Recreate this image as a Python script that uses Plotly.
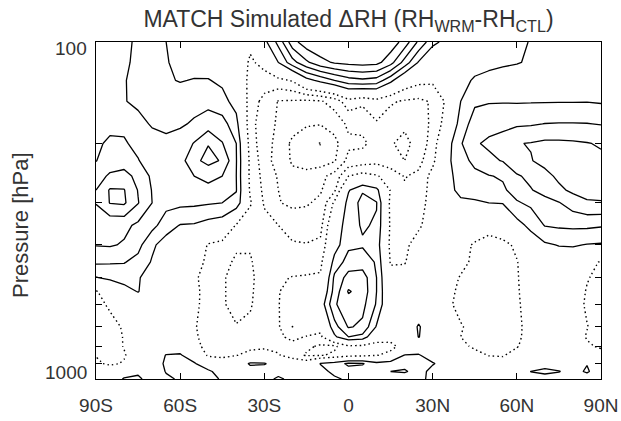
import math
import plotly.graph_objects as go

# Latitude grid (deg, south negative) and pressure levels (hPa)
lat = [-90, -85, -80, -75, -70, -65, -60, -55, -50, -45, -40, -35, -30, -25, -20, -15, -10, -5,
       0, 5, 10, 15, 20, 25, 30, 35, 40, 45, 50, 55, 60, 65, 70, 75, 80, 85, 90]
pres = [100, 115, 130, 150, 175, 200, 225, 250, 275, 300, 350, 400, 450, 500, 550, 600,
        700, 750, 800, 850, 900, 950, 1000]

# Delta RH (contour units), one row per pressure level
d100 = [2.4, 2.4, 2.2, 1.85, 1.4, 1.0, 0.7, 0.5, 0.45, 0.35, 0.1, -0.7, 0.7, 2.3, 4.6, 5.6, 5.8, 5.9, 5.9, 5.9, 5.8, 5.6, 4.6, 2.8, 1.35, 0.6, 0.3, 0.4, 0.5, 0.6, 0.8, 1.05, 1.3, 1.5, 1.6, 1.7, 1.7]
d115 = [2.5, 2.5, 2.15, 1.8, 1.4, 1.05, 0.8, 0.6, 0.55, 0.45, 0.0, -1.2, -0.6, 1.0, 2.6, 3.8, 4.7, 5.1, 5.3, 5.4, 5.3, 4.4, 2.6, 0.9, -0.4, -0.3, 0.2, 0.5, 0.7, 0.85, 0.95, 1.1, 1.3, 1.5, 1.6, 1.7, 1.75]
d130 = [2.6, 2.6, 2.05, 1.75, 1.45, 1.1, 0.95, 1.05, 1.05, 0.8, 0.2, -1.4, -1.5, -1.3, -0.9, 0.6, 1.3, 2.0, 2.6, 2.8, 2.6, 1.3, -0.2, -0.7, -0.8, -0.4, 0.6, 1.15, 1.35, 1.45, 1.5, 1.6, 1.7, 1.8, 1.85, 1.9, 1.9]
d150 = [2.7, 2.6, 2.05, 1.8, 1.6, 1.5, 1.5, 1.6, 1.7, 1.35, 0.6, -1.5, -2.3, -3.05, -3.1, -3.2, -3.1, -2.6, -1.4, -1.8, -1.4, -1.9, -2.1, -2.2, -1.9, -0.8, 1.0, 1.85, 1.92, 1.93, 1.92, 1.93, 1.94, 1.95, 1.95, 1.96, 1.9]
d175 = [2.8, 2.85, 2.8, 2.3, 1.9, 1.75, 1.85, 2.15, 2.5, 2.4, 1.35, -1.7, -2.5, -3.15, -3.6, -3.9, -3.95, -3.6, -2.8, -2.7, -2.1, -2.4, -2.8, -2.5, -1.8, -0.5, 1.5, 2.4, 2.7, 2.8, 2.85, 2.9, 3.02, 3.05, 3.05, 3.03, 2.95]
d200 = [2.9, 3.1, 3.1, 2.75, 2.4, 2.25, 2.5, 3.05, 3.95, 3.05, 2.0, -1.5, -2.6, -3.3, -4.2, -4.6, -5.05, -4.3, -3.2, -3.2, -2.6, -2.9, -3.3, -2.6, -1.6, 0.5, 1.9, 2.9, 3.15, 3.3, 3.95, 4.05, 4.2, 4.2, 4.15, 4.05, 3.9]
d225 = [2.97, 3.5, 3.6, 3.05, 2.5, 2.2, 2.6, 3.75, 4.3, 3.9, 2.05, -1.3, -2.5, -3.5, -4.1, -4.4, -4.5, -4.1, -2.7, -2.5, -2.3, -2.5, -3.0, -2.3, -1.3, 0.7, 1.7, 2.2, 2.8, 3.05, 3.6, 3.95, 4.3, 4.4, 4.4, 4.3, 4.2]
d250 = [3.6, 4.15, 4.3, 3.75, 2.8, 2.4, 2.5, 3.0, 3.3, 3.0, 2.0, -1.3, -2.3, -3.1, -3.8, -3.7, -3.3, -2.6, -1.0, -0.6, -0.9, -1.5, -2.05, -1.8, -0.6, 0.5, 1.6, 1.8, 1.95, 2.1, 2.9, 3.2, 3.7, 4.2, 4.5, 4.6, 4.6]
d275 = [4.0, 5.1, 5.05, 3.95, 2.95, 2.4, 2.4, 2.6, 2.7, 2.55, 2.05, -1.2, -2.2, -3.0, -3.4, -3.3, -3.1, -2.2, 0.9, 1.9, 1.3, -1.1, -1.9, -1.7, -0.5, 0.6, 1.3, 1.45, 1.65, 1.85, 2.4, 2.95, 3.3, 3.8, 4.2, 4.3, 4.25]
d300 = [4.05, 5.05, 5.15, 4.05, 3.0, 2.3, 2.25, 2.2, 2.1, 2.0, 1.7, -0.9, -2.1, -2.95, -3.2, -3.1, -2.8, -0.8, 1.4, 2.3, 2.05, -1.3, -1.7, -1.6, -0.4, 0.4, 0.8, 0.85, 1.0, 1.05, 1.9, 2.2, 2.7, 2.95, 3.5, 3.9, 3.95]
d350 = [3.3, 3.25, 3.25, 2.8, 2.3, 1.5, 0.95, 0.9, 0.6, 0.4, -1.1, -1.5, -1.7, -2.0, -2.4, -2.5, -2.3, 0.2, 1.6, 2.1, 1.9, -1.2, -1.5, -1.15, -0.5, 0.0, 0.3, 0.2, -0.6, -0.2, 0.6, 1.3, 2.05, 2.15, 2.2, 2.2, 2.1]
d400 = [3.05, 3.1, 2.9, 2.3, 1.2, 0.5, 0.3, 0.0, -1.1, -1.4, -1.8, -1.95, -1.7, -1.7, -1.9, -1.95, -1.8, 0.5, 1.8, 1.9, 1.6, -1.3, -1.2, -0.6, -0.4, -0.2, -0.4, -1.2, -1.4, -1.3, -0.8, 0.3, 0.85, 1.05, 1.1, 0.95, 0.9]
d450 = [2.15, 2.1, 2.05, 1.7, 0.9, 0.2, -0.2, -0.6, -1.2, -1.6, -2.2, -2.05, -1.7, -1.5, -1.6, -1.5, -1.3, 1.4, 2.4, 2.5, 1.9, -1.1, -1.05, -0.5, 0.0, -0.3, -0.6, -1.3, -1.5, -1.4, -1.05, -0.3, 0.2, 0.3, 0.2, -0.6, -1.1]
d500 = [0.95, 1.25, 1.4, 1.15, 0.2, -0.2, -0.4, -0.8, -1.5, -1.9, -2.3, -2.2, -1.5, -1.15, -0.95, -0.9, -0.85, 2.2, 3.4, 3.5, 2.0, -0.6, -0.7, -0.3, 0.1, -0.4, -1.1, -1.4, -1.6, -1.5, -1.1, -0.3, 0.0, 0.1, -0.1, -0.9, -1.4]
d550 = [-1.1, -0.3, 0.6, 1.05, 0.3, -0.2, -0.4, -0.8, -1.3, -1.9, -2.3, -2.2, -1.3, -1.05, -0.6, -0.4, -0.3, 2.4, 4.1, 3.6, 2.0, -0.4, -0.3, 0.0, 0.2, -0.7, -1.2, -1.5, -1.6, -1.5, -1.15, -0.3, 0.0, 0.0, -0.2, -1.1, -1.5]
d600 = [-1.3, -0.85, -0.2, 0.0, -0.1, -0.3, -0.6, -0.7, -1.5, -1.9, -2.3, -2.1, -1.4, -1.05, -0.3, -0.1, 0.3, 2.9, 3.5, 3.3, 1.9, -0.3, 0.0, 0.3, 0.1, -0.7, -1.4, -1.6, -1.7, -1.6, -1.2, -0.4, -0.1, -0.1, -0.3, -1.2, -1.5]
d700 = [-1.5, -1.3, -0.9, -0.3, 0.0, 0.0, -0.3, -0.9, -1.5, -1.7, -1.95, -1.8, -1.5, -1.2, 1.03, 0.2, -0.6, 1.6, 3.1, 2.8, 0.9, -0.2, 0.2, 1.1, 0.3, 0.0, -0.9, -1.4, -1.5, -1.5, -1.3, -0.5, 0.0, 0.0, -0.3, -0.95, -1.5]
d750 = [-1.4, -1.4, -0.95, -0.3, 0.0, 0.1, 0.0, -0.8, -1.5, -1.5, -1.6, -1.5, -1.4, -1.3, -0.6, -1.1, -1.25, 0.8, 2.0, 1.7, -0.3, -0.6, -0.6, 1.05, 0.2, -0.1, -1.0, -1.45, -1.55, -1.5, -1.3, -0.4, 0.0, 0.0, -0.3, -1.1, -1.5]
d800 = [-1.3, -1.5, -0.95, -0.3, 0.0, 0.4, 0.5, -0.6, -1.4, -1.4, -1.3, -1.3, -1.2, -1.3, -1.5, -1.8, -2.15, -2.2, -1.2, -1.3, -1.5, -1.3, -0.6, 0.2, 0.1, -0.3, -0.7, -1.2, -1.45, -1.4, -1.1, -0.3, 0.0, 0.0, -0.3, -0.8, -1.2]
d850 = [-1.05, -1.6, -1.1, -0.3, 0.2, 1.05, 1.1, 0.4, -1.2, -1.3, -1.05, -0.6, -0.5, -0.9, -1.6, -2.1, -2.1, -1.8, -1.4, -1.3, -1.05, -0.7, 1.05, 1.1, 0.4, 0.0, -0.2, -0.6, -1.05, -1.1, -0.5, -0.1, 0.0, 0.0, -0.1, -0.2, -0.4]
d900 = [-0.8, -1.2, -0.9, -0.2, 0.3, 1.2, 1.5, 1.1, 0.3, -0.3, 0.2, 1.15, 1.1, 0.4, 0.0, -0.3, 1.05, 1.5, 2.2, 2.1, 1.3, 1.6, 1.6, 1.4, 1.1, 0.5, 0.2, -0.2, -0.4, -0.5, 0.0, 0.3, 0.5, 0.3, 0.3, 0.95, 0.2]
d950 = [-0.3, -0.2, 0.4, 0.8, 0.4, 1.05, 1.3, 1.4, 1.2, 0.5, 0.1, 0.5, 0.3, 0.6, 0.2, 0.3, 0.6, 1.3, 1.6, 1.5, 1.4, 2.0, 2.15, 1.5, 0.6, 0.2, 0.1, 0.0, -0.1, 0.0, 0.4, 1.02, 1.3, 1.05, 0.6, 1.15, 0.3]
d1000 = [0.0, 0.3, 1.1, 1.2, 0.5, 0.85, 1.1, 1.3, 1.3, 0.9, 0.5, 0.2, 0.6, 1.2, 0.7, 0.3, 0.2, 0.8, 1.2, 1.3, 1.3, 1.3, 1.2, 1.3, 0.7, 0.2, 0.0, 0.0, 0.0, 0.1, 0.2, 0.6, 0.4, 0.5, 0.6, 0.3, 0.1]

drh = [d100, d115, d130, d150, d175, d200, d225, d250, d275, d300, d350, d400, d450, d500,
       d550, d600, d700, d750, d800, d850, d900, d950, d1000]

x_tick_values = [-90, -60, -30, 0, 30, 60, 90]
x_tick_labels = ["90S", "60S", "30S", "0", "30N", "60N", "90N"]
y_tick_values = [100, 200, 300, 400, 500, 600, 700, 800, 900, 1000]
y_label_values = [100, 1000]
y_label_texts = ["100", "1000"]

title_text = "MATCH Simulated \u0394RH (RH<sub>WRM</sub>-RH<sub>CTL</sub>)"
y_title = "Pressure [hPa]"

FONT = "Liberation Sans, Arial, Helvetica, sans-serif"
TXT = "#333333"

fig = go.Figure()
fig.add_trace(go.Contour(
    x=lat, y=pres, z=drh, autocontour=False,
    contours=dict(start=1, end=10, size=1, coloring="none", showlines=True),
    line=dict(color="black", width=1.3, smoothing=0),
    showscale=False, hoverinfo="skip"))
fig.add_trace(go.Contour(
    x=lat, y=pres, z=drh, autocontour=False,
    contours=dict(start=-10, end=-1, size=1, coloring="none", showlines=True),
    line=dict(color="black", width=1.4, dash="1.5px,3px", smoothing=0),
    showscale=False, hoverinfo="skip"))

annotations = []
for v, t in zip(y_label_values, y_label_texts):
    annotations.append(dict(
        x=0, xref="paper", y=math.log10(v), yref="y", text=t, showarrow=False,
        xanchor="right", yanchor="middle", xshift=-7,
        yshift=(-6 if v == min(y_label_values) else 7),
        font=dict(family=FONT, size=19, color=TXT)))
annotations.append(dict(
    x=-0.1485, xref="paper", y=0.457, yref="paper", text=y_title, textangle=-90,
    showarrow=False, xanchor="center", yanchor="middle",
    font=dict(family=FONT, size=22, color=TXT)))

fig.update_layout(
    width=621, height=421,
    margin=dict(l=96, r=20, t=42, b=42, autoexpand=False),
    paper_bgcolor="white", plot_bgcolor="white",
    showlegend=False,
    title=dict(text=title_text, x=0.5, xref="paper", xanchor="center",
               y=1 - 19 / 421, yref="container", yanchor="middle",
               font=dict(family=FONT, size=23, color=TXT)),
    xaxis=dict(range=[-90, 90], tickvals=x_tick_values, ticktext=x_tick_labels,
               ticks="inside", ticklen=6, tickcolor="black", tickwidth=1,
               showline=True, linecolor="black", linewidth=1, mirror="ticks",
               showgrid=False, zeroline=False, ticklabelstandoff=9,
               automargin=False,
               tickfont=dict(family=FONT, size=19, color=TXT)),
    yaxis=dict(type="log", range=[3, 2], tickvals=y_tick_values,
               ticks="inside", ticklen=6, tickcolor="black", tickwidth=1,
               showline=True, linecolor="black", linewidth=1, mirror="ticks",
               showgrid=False, zeroline=False, showticklabels=False,
               automargin=False),
    annotations=annotations,
)

fig.write_html("out.html")
